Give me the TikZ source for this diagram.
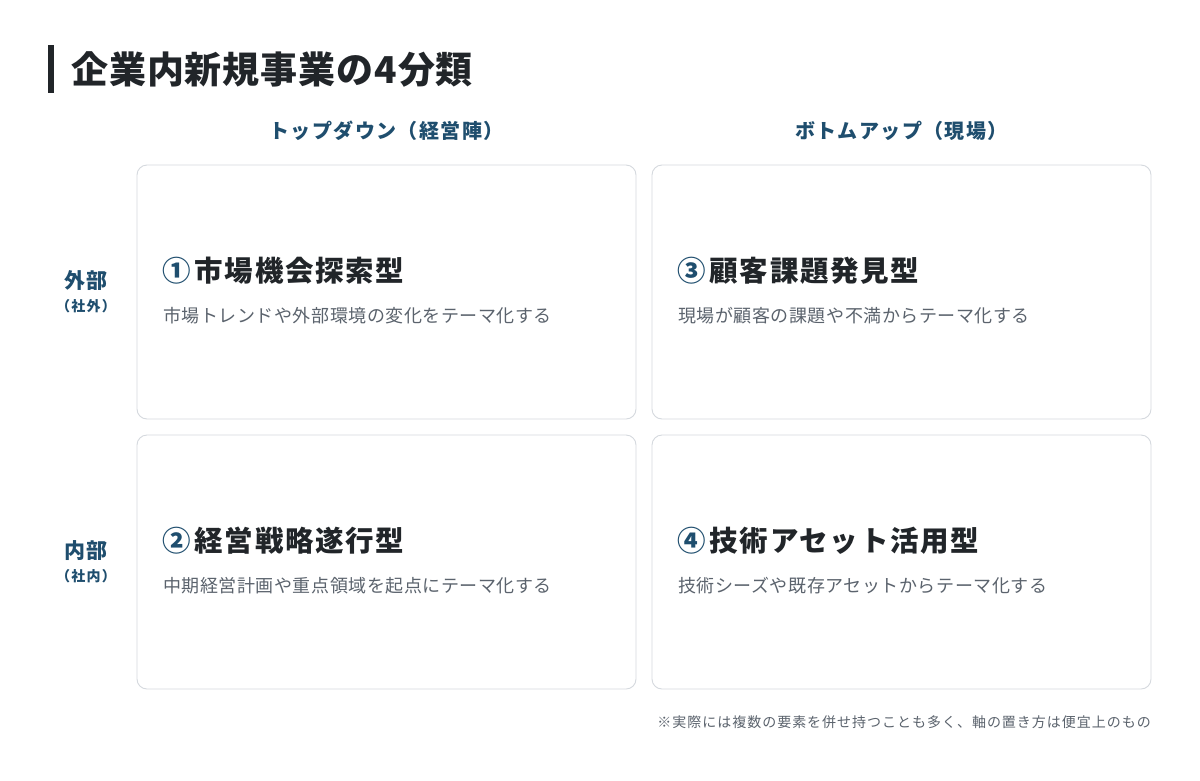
\documentclass[tikz,border=0pt]{standalone}
\usepackage{fontspec}
\setmainfont{Noto Sans CJK JP}
\definecolor{teal}{HTML}{1F4E6E}
\definecolor{ink}{HTML}{212529}
\definecolor{desc}{HTML}{5B636D}
\definecolor{edge}{HTML}{D5D9DE}
\newcommand{\ls}[1]{\addfontfeature{LetterSpace=#1}}
\newcommand{\cnum}[1]{\textcolor{teal}{#1}\hspace{4pt}}
\begin{document}
\begin{tikzpicture}[x=1pt,y=-1pt,
  card/.style={draw=edge,line width=0.9pt,rounded corners=10pt,fill=white},
  ttl/.style={anchor=base west,inner sep=0pt,text=ink,font=\fontsize{28.5}{34}\selectfont\bfseries\ls{6}},
  dsc/.style={anchor=base west,inner sep=0pt,text=desc,font=\fontsize{18}{22}\selectfont\ls{3}},
  colh/.style={anchor=base,inner sep=0pt,text=teal,font=\fontsize{20}{24}\selectfont\bfseries\ls{7}},
  rowh/.style={anchor=base,inner sep=0pt,text=teal,font=\fontsize{21}{25}\selectfont\bfseries\ls{5}},
  rows/.style={anchor=base,inner sep=0pt,text=teal,font=\fontsize{14}{17}\selectfont\bfseries\ls{9}}]
\useasboundingbox[fill=white] (0,0) rectangle (1200,780);
% title
\fill[ink] (48,45) rectangle (54,93);
\node[anchor=base west,inner sep=0pt,text=ink,font=\fontsize{37}{44}\selectfont\bfseries\ls{2.5}] (title) at (71,83) {企業内新規事業の4分類};
% column headers
\node[colh] (c1) at (386.5,138) {トップダウン（経営陣）};
\node[colh] (c2) at (901.5,138) {ボトムアップ（現場）};
% row headers
\node[rowh] (r1) at (86,288) {外部};
\node[rows] (r1s) at (86,311.5) {（社外）};
\node[rowh] (r2) at (86,558) {内部};
\node[rows] (r2s) at (86,581.5) {（社内）};
% cards
\draw[card] (137,165) rectangle (636,419);
\draw[card] (652,165) rectangle (1151,419);
\draw[card] (137,435) rectangle (636,689);
\draw[card] (652,435) rectangle (1151,689);
% card contents
\node[ttl] (t1) at (162,281) {\cnum{①}市場機会探索型};
\node[dsc] (d1) at (163,322.5) {市場トレンドや外部環境の変化をテーマ化する};
\node[ttl] (t3) at (677,281) {\cnum{③}顧客課題発見型};
\node[dsc] (d3) at (678,322.5) {現場が顧客の課題や不満からテーマ化する};
\node[ttl] (t2) at (162,551) {\cnum{②}経営戦略遂行型};
\node[dsc] (d2) at (163,592.5) {中期経営計画や重点領域を起点にテーマ化する};
\node[ttl] (t4) at (677,551) {\cnum{④}技術アセット活用型};
\node[dsc] (d4) at (678,592.5) {技術シーズや既存アセットからテーマ化する};
% footnote
\node[anchor=base east,inner sep=0pt,text=desc,font=\fontsize{14}{17}\selectfont\ls{7}] (fn) at (1151,727) {※実際には複数の要素を併せ持つことも多く、軸の置き方は便宜上のもの};
\end{tikzpicture}
\end{document}
